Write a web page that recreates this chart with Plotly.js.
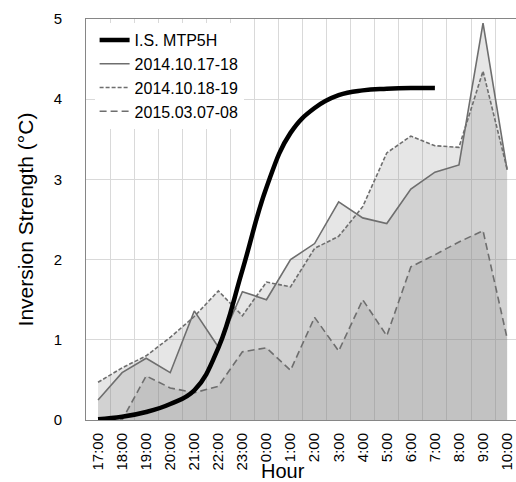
<!DOCTYPE html>
<html>
<head>
<meta charset="utf-8">
<script src="https://cdn.plot.ly/plotly-3.0.1.min.js"></script>
<style>html,body{margin:0;padding:0;background:#fff;}#chart{width:516px;height:482px;}</style>
</head>
<body>
<div id="chart"></div>
<script>
const hours = ['17:00','18:00','19:00','20:00','21:00','22:00','23:00','0:00','1:00','2:00','3:00','4:00','5:00','6:00','7:00','8:00','9:00','10:00'];
const mtp5h    = [0.01,0.04,0.10,0.20,0.37,0.90,1.87,2.90,3.58,3.89,4.05,4.11,4.13,4.14,4.14,null,null,null];
const s20141017 = [0.25,0.59,0.77,0.59,1.36,0.91,1.60,1.50,2.00,2.20,2.72,2.52,2.45,2.88,3.09,3.18,4.95,3.12];
const s20141018 = [0.47,0.65,0.80,1.03,1.29,1.61,1.30,1.72,1.66,2.14,2.29,2.66,3.33,3.54,3.42,3.40,4.35,3.13];
const s20150307 = [0.00,0.00,0.55,0.40,0.34,0.42,0.85,0.90,0.62,1.28,0.86,1.50,1.05,1.91,2.06,2.22,2.36,1.02];
const yTicks = [0,1,2,3,4,5];

const xs = hours.map((_, i) => i);
const bounds = hours.map((_, i) => i - 0.5).concat([hours.length - 0.5]);

const fillColor = 'rgba(128,128,128,0.2)';
const gray = '#6e6e6e';
const fonts = '"Liberation Sans", Arial, sans-serif';

const areaSeries = [s20141017, s20141018, s20150307];
const traces = areaSeries.map(ys => ({
  x: xs, y: ys, type: 'scatter', mode: 'none', fill: 'tozeroy',
  fillcolor: fillColor, showlegend: false, hoverinfo: 'skip'
}));

traces.push({x: xs, y: s20141017, type: 'scatter', mode: 'lines', name: '2014.10.17-18',
  line: {color: gray, width: 1.6}, legendrank: 2});
traces.push({x: xs, y: s20141018, type: 'scatter', mode: 'lines', name: '2014.10.18-19',
  line: {color: gray, width: 1.6, dash: '4px,2px'}, legendrank: 3});
traces.push({x: xs, y: s20150307, type: 'scatter', mode: 'lines', name: '2015.03.07-08',
  line: {color: gray, width: 1.6, dash: '7px,4px'}, legendrank: 4});
traces.push({x: xs, y: mtp5h, type: 'scatter', mode: 'lines', name: 'I.S. MTP5H',
  line: {color: '#000', width: 4.5, shape: 'spline', smoothing: 1.2}, legendrank: 1});

const layout = {
  width: 516, height: 482,
  margin: {l: 86, r: 0, t: 19, b: 62},
  paper_bgcolor: '#fff', plot_bgcolor: '#fff',
  font: {family: fonts, color: '#000', size: 15},
  showlegend: true,
  legend: {x: 0.02, y: 0.99, xanchor: 'left', yanchor: 'top', bgcolor: '#fff',
    font: {family: fonts, size: 16, color: '#000'}, tracegroupgap: 0},
  xaxis: {
    range: [-0.5, 17.37], tickmode: 'array', tickvals: xs, ticktext: hours,
    tickangle: -90, tickfont: {size: 15}, ticks: '', showgrid: false,
    minor: {tickmode: 'array', tickvals: bounds, showgrid: true, gridcolor: '#d9d9d9', gridwidth: 1, ticks: ''},
    showline: true, linecolor: '#868686', linewidth: 1, mirror: true, zeroline: false,
    ticklabelstandoff: 6, fixedrange: true
  },
  yaxis: {
    range: [0, 5], tickmode: 'array', tickvals: yTicks, ticks: '',
    tickfont: {size: 15}, showgrid: true, gridcolor: '#d9d9d9', gridwidth: 1,
    showline: true, linecolor: '#868686', linewidth: 1, zeroline: false,
    ticklabelstandoff: 20,
    title: {text: 'Inversion Strength (°C)', font: {size: 21, color: '#000'}, standoff: 14},
    automargin: false, fixedrange: true
  },
  annotations: [{
    text: 'Hour', xref: 'paper', yref: 'paper', x: 0.458, y: -0.127,
    xanchor: 'center', yanchor: 'middle', showarrow: false,
    font: {family: fonts, size: 20, color: '#000'}
  }]
};

Plotly.newPlot('chart', traces, layout, {displayModeBar: false, staticPlot: true});
</script>
</body>
</html>
